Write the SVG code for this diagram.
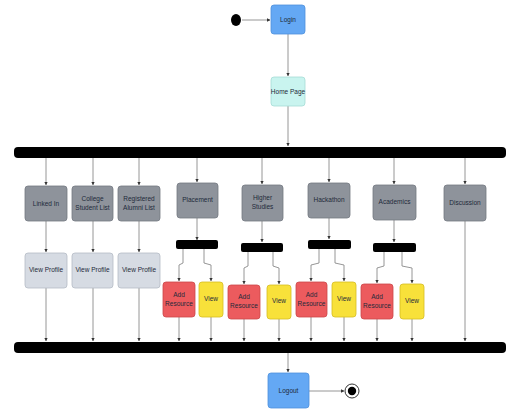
<svg xmlns="http://www.w3.org/2000/svg" width="513" height="412" viewBox="0 0 513 412">
<style>
text{font-family:"Liberation Sans",Arial,sans-serif;font-size:6.5px;fill:#1e2a3a;text-anchor:middle}
.ln{fill:none;stroke:#8a8a8a;stroke-width:0.9;marker-end:url(#ah)}
.blue{fill:#64a8f4;stroke:#4e90dc;stroke-width:0.8}
.cyan{fill:#c9f4ef;stroke:#a6dcd6;stroke-width:0.8}
.gray{fill:#8e939b;stroke:#747982;stroke-width:0.8}
.lgray{fill:#d6dbe3;stroke:#b5bbc5;stroke-width:0.8}
.red{fill:#ec5b5e;stroke:#cc4649;stroke-width:0.8}
.yel{fill:#f8e13a;stroke:#d6bd22;stroke-width:0.8}
.bar{fill:#000}
</style>
<defs>
<marker id="ah" viewBox="0 0 6 6" refX="5.5" refY="3" markerWidth="4" markerHeight="4" orient="auto">
<path d="M0,0 L6,3 L0,6 z" fill="#333"/>
</marker>
</defs>
<rect width="513" height="412" fill="#fff"/>

<g id="connectors">
<line class="ln" x1="242" y1="20" x2="270" y2="20"/>
<line class="ln" x1="288" y1="34" x2="288" y2="76"/>
<line class="ln" x1="288" y1="106" x2="288" y2="146"/>
<line class="ln" x1="46" y1="158" x2="46" y2="185"/>
<line class="ln" x1="93" y1="158" x2="93" y2="185"/>
<line class="ln" x1="139" y1="158" x2="139" y2="185"/>
<line class="ln" x1="197" y1="158" x2="197" y2="182"/>
<line class="ln" x1="262" y1="158" x2="262" y2="184"/>
<line class="ln" x1="329" y1="158" x2="329" y2="182"/>
<line class="ln" x1="394" y1="158" x2="394" y2="184"/>
<line class="ln" x1="465" y1="158" x2="465" y2="184"/>
<line class="ln" x1="46" y1="221" x2="46" y2="252"/>
<line class="ln" x1="93" y1="221" x2="93" y2="252"/>
<line class="ln" x1="139" y1="221" x2="139" y2="252"/>
<line class="ln" x1="46" y1="288" x2="46" y2="341"/>
<line class="ln" x1="93" y1="288" x2="93" y2="341"/>
<line class="ln" x1="139" y1="288" x2="139" y2="341"/>
<line class="ln" x1="197" y1="218" x2="197" y2="240"/>
<line class="ln" x1="262" y1="221" x2="262" y2="242"/>
<line class="ln" x1="329" y1="218" x2="329" y2="239"/>
<line class="ln" x1="394" y1="220" x2="394" y2="242"/>
<polyline class="ln" points="183,249 183,263 179,265 179,281"/>
<polyline class="ln" points="204,249 204,263 211,265 211,281"/>
<polyline class="ln" points="248,252 248,266 244,268 244,284"/>
<polyline class="ln" points="273,252 273,266 279,268 279,284"/>
<polyline class="ln" points="319,249 319,263 311,265 311,281"/>
<polyline class="ln" points="335,249 335,263 344,265 344,281"/>
<polyline class="ln" points="384,252 384,266 377,268 377,283"/>
<polyline class="ln" points="402,252 402,266 412,268 412,283"/>
<line class="ln" x1="179" y1="317" x2="179" y2="341"/>
<line class="ln" x1="211" y1="317" x2="211" y2="341"/>
<line class="ln" x1="244" y1="319" x2="244" y2="341"/>
<line class="ln" x1="279" y1="319" x2="279" y2="341"/>
<line class="ln" x1="311" y1="317" x2="311" y2="341"/>
<line class="ln" x1="344" y1="317" x2="344" y2="341"/>
<line class="ln" x1="377" y1="319" x2="377" y2="341"/>
<line class="ln" x1="412" y1="319" x2="412" y2="341"/>
<line class="ln" x1="465" y1="221" x2="465" y2="341"/>
<line class="ln" x1="288" y1="353" x2="288" y2="372"/>
<line class="ln" x1="309" y1="391" x2="344" y2="391"/>
</g>

<g id="start"><ellipse cx="236" cy="20" rx="5" ry="6" fill="#000"/></g>
<g id="login"><rect class="blue" x="271" y="5" width="34" height="29" rx="3"/><text x="288" y="22">Login</text></g>
<g id="homepage"><rect class="cyan" x="271" y="77" width="34" height="29" rx="3"/><text x="288" y="94" font-size="5.5">Home Page</text></g>
<g id="fork-main"><rect class="bar" x="14" y="147" width="492" height="11" rx="4"/></g>

<g id="linkedin"><rect class="gray" x="25" y="186" width="42" height="35" rx="3"/><text x="46" y="206">Linked In</text></g>
<g id="college"><rect class="gray" x="72" y="186" width="41" height="35" rx="3"/><text x="92.5" y="201">College</text><text x="92.5" y="210">Student List</text></g>
<g id="alumni"><rect class="gray" x="118" y="186" width="42" height="35" rx="3"/><text x="139" y="201">Registered</text><text x="139" y="210">Alumni List</text></g>
<g id="placement"><rect class="gray" x="177" y="183" width="41" height="35" rx="3"/><text x="197.5" y="202">Placement</text></g>
<g id="higher"><rect class="gray" x="242" y="185" width="41" height="36" rx="3"/><text x="262.5" y="200">Higher</text><text x="262.5" y="209">Studies</text></g>
<g id="hackathon"><rect class="gray" x="308" y="183" width="42" height="35" rx="3"/><text x="329" y="202">Hackathon</text></g>
<g id="academics"><rect class="gray" x="373" y="185" width="43" height="35" rx="3"/><text x="394.5" y="204">Academics</text></g>
<g id="discussion"><rect class="gray" x="444" y="185" width="42" height="36" rx="3"/><text x="465" y="205">Discussion</text></g>

<g id="view-profile-1"><rect class="lgray" x="25" y="253" width="42" height="35" rx="3"/><text x="46" y="272">View Profile</text></g>
<g id="view-profile-2"><rect class="lgray" x="72" y="253" width="41" height="35" rx="3"/><text x="92.5" y="272">View Profile</text></g>
<g id="view-profile-3"><rect class="lgray" x="118" y="253" width="42" height="35" rx="3"/><text x="139" y="272">View Profile</text></g>

<g id="fork-placement"><rect class="bar" x="176" y="240" width="42" height="9" rx="2"/></g>
<g id="fork-higher"><rect class="bar" x="241" y="243" width="42" height="9" rx="2"/></g>
<g id="fork-hackathon"><rect class="bar" x="308" y="240" width="43" height="9" rx="2"/></g>
<g id="fork-academics"><rect class="bar" x="373" y="243" width="43" height="9" rx="2"/></g>

<g id="add-placement"><rect class="red" x="163" y="282" width="32" height="35" rx="3"/><text x="179" y="297">Add</text><text x="179" y="306">Resource</text></g>
<g id="view-placement"><rect class="yel" x="199" y="282" width="24" height="35" rx="3"/><text x="211" y="301">View</text></g>
<g id="add-higher"><rect class="red" x="228" y="285" width="32" height="34" rx="3"/><text x="244" y="299">Add</text><text x="244" y="308">Resource</text></g>
<g id="view-higher"><rect class="yel" x="267" y="285" width="24" height="34" rx="3"/><text x="279" y="303">View</text></g>
<g id="add-hackathon"><rect class="red" x="296" y="282" width="31" height="35" rx="3"/><text x="311.5" y="297">Add</text><text x="311.5" y="306">Resource</text></g>
<g id="view-hackathon"><rect class="yel" x="332" y="282" width="24" height="35" rx="3"/><text x="344" y="301">View</text></g>
<g id="add-academics"><rect class="red" x="361" y="284" width="32" height="35" rx="3"/><text x="377" y="299">Add</text><text x="377" y="308">Resource</text></g>
<g id="view-academics"><rect class="yel" x="400" y="284" width="24" height="35" rx="3"/><text x="412" y="303">View</text></g>

<g id="join-main"><rect class="bar" x="14" y="342" width="492" height="11" rx="4"/></g>
<g id="logout"><rect class="blue" x="268" y="373" width="41" height="35" rx="3"/><text x="288.5" y="393">Logout</text></g>
<g id="end"><circle cx="352" cy="391" r="7" fill="#fff" stroke="#333" stroke-width="1"/><circle cx="352" cy="391" r="4.2" fill="#000"/></g>
</svg>
